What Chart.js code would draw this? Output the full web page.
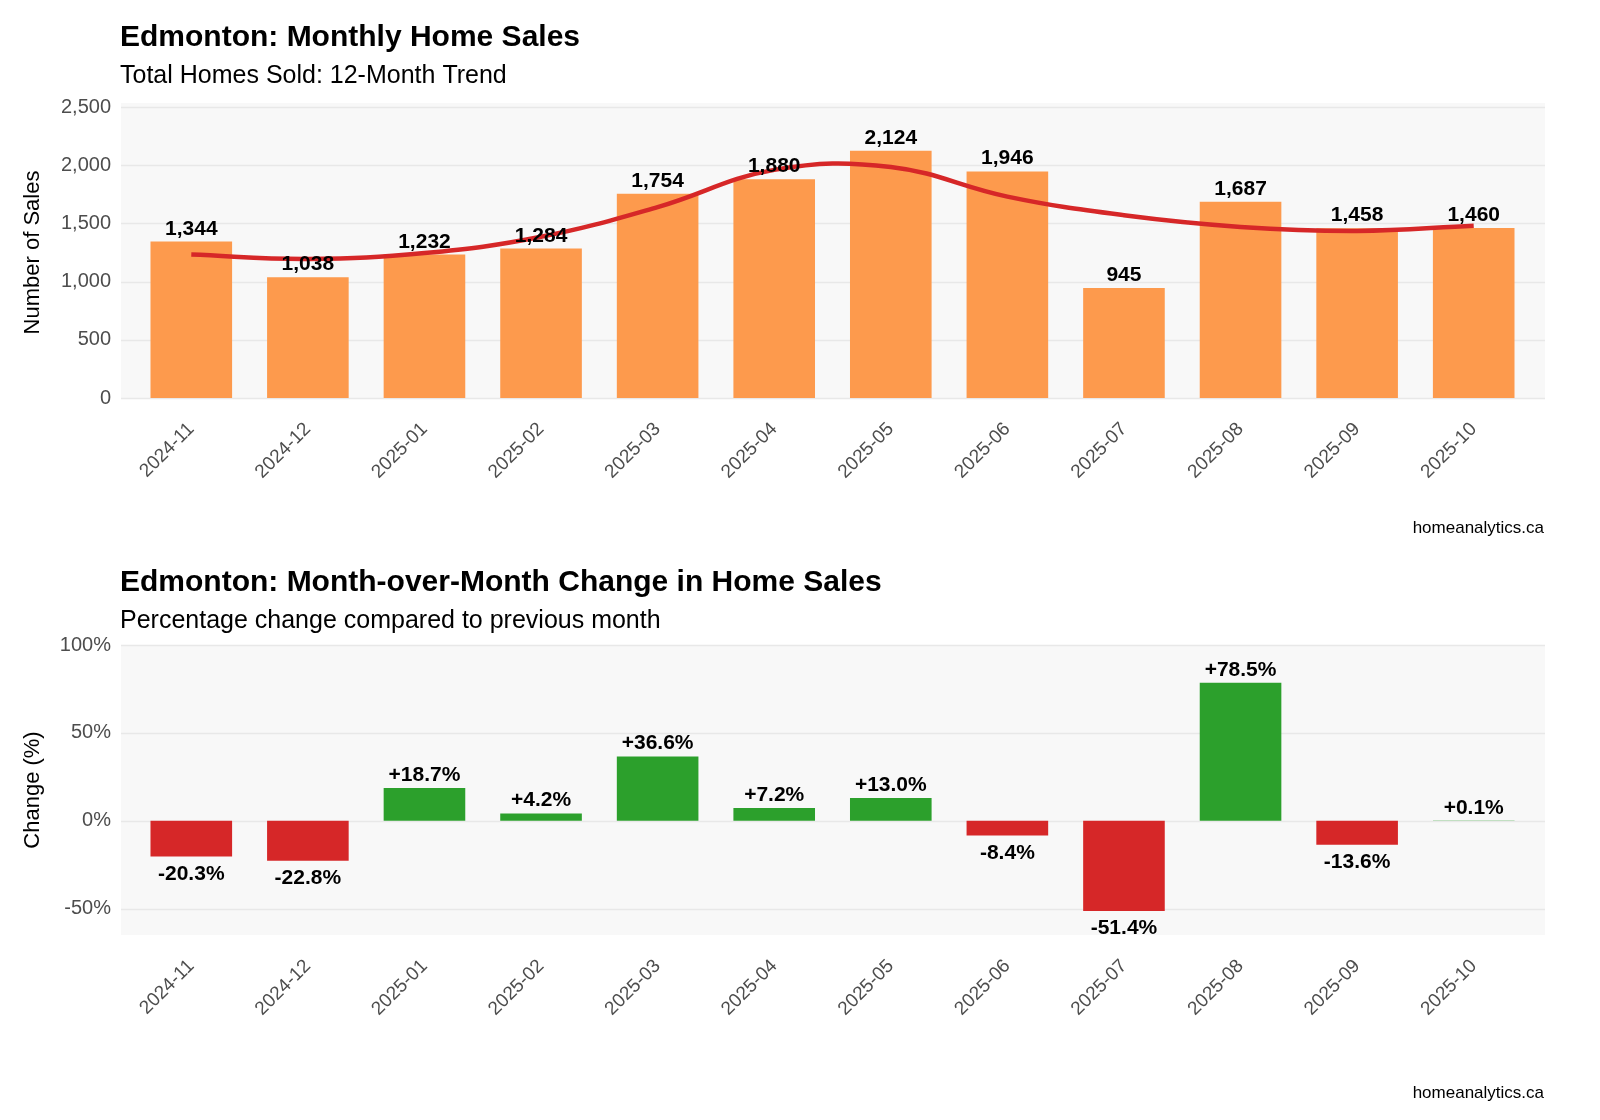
<!DOCTYPE html>
<html><head><meta charset="utf-8">
<script src="https://cdn.jsdelivr.net/npm/chart.js@4.4.0/dist/chart.umd.min.js"></script>
<style>body{margin:0;background:#fff;overflow:hidden}#a{position:absolute;left:0;top:0;width:1600px;height:545px}#b{position:absolute;left:0;top:545px;width:1600px;height:575px}</style>
</head><body>
<div id="a"><canvas id="c1"></canvas></div><div id="b"><canvas id="c2"></canvas></div>
<script>
const months=["2024-11","2024-12","2025-01","2025-02","2025-03","2025-04","2025-05","2025-06","2025-07","2025-08","2025-09","2025-10"];
const sales=[1344,1038,1232,1284,1754,1880,2124,1946,945,1687,1458,1460];
const trend=[1232,1195,1245,1385,1640,1960,1985,1730,1570,1470,1435,1480];
const change=[-20.3,-22.8,18.7,4.2,36.6,7.2,13.0,-8.4,-51.4,78.5,-13.6,0.1];
const F='Arial, "Liberation Sans", sans-serif';
function deco(title,sub,capY,bgTop,bgBot,gridVals,labelFn,clip){return{id:'deco',
beforeDraw(c){const a=c.chartArea,x=c.ctx,y=c.scales.y;x.save();x.fillStyle='#f8f8f8';
x.fillRect(121,a.top-bgTop,1545-121,a.bottom-a.top+bgTop+bgBot);
x.strokeStyle='#e8e8e8';x.lineWidth=1.5;
gridVals.forEach(v=>{const p=Math.round(y.getPixelForValue(v))+0.5;x.beginPath();x.moveTo(121,p);x.lineTo(1545,p);x.stroke();});
x.restore();},
afterDatasetsDraw(c){const x=c.ctx,a=c.chartArea;x.save();
x.fillStyle='#000';x.textAlign='left';x.textBaseline='alphabetic';
x.font='bold 30px '+F;x.fillText(title,120,46);
x.font='25px '+F;x.fillText(sub,120,83);
x.font='17px '+F;x.textAlign='right';x.fillText('homeanalytics.ca',1544,capY);
x.beginPath();x.rect(121,a.top-bgTop-40,1545-121,a.bottom-a.top+bgTop+bgBot+40);if(clip)x.clip();
x.font='bold 21px '+F;x.textAlign='center';
c.getDatasetMeta(0).data.forEach((b,i)=>{labelFn(x,b,i);});x.restore();}}}
function yFit(s){s.width=133;}
Chart.defaults.font.family=F;
new Chart(document.getElementById('c1'),{
data:{labels:months,datasets:[
{type:'bar',data:sales,backgroundColor:'#fd9a4d',barPercentage:0.7,categoryPercentage:1,order:2},
{type:'line',data:trend,borderColor:'#d62728',borderWidth:4.5,tension:0.4,pointRadius:0,order:1}]},
options:{responsive:true,maintainAspectRatio:false,animation:false,
layout:{padding:{top:107,right:68,bottom:40,left:0}},
plugins:{legend:{display:false},tooltip:{enabled:false}},
scales:{x:{grid:{display:false},border:{display:false},afterFit(s){s.height=107;},ticks:{color:'#4d4d4d',font:{size:19},padding:12,maxRotation:45,minRotation:45}},
y:{min:0,max:2500,afterFit:yFit,border:{display:false},grid:{display:false},ticks:{stepSize:500,color:'#4d4d4d',font:{size:20},padding:14,callback:v=>v.toLocaleString('en-US')},
title:{display:true,text:'Number of Sales',color:'#000',font:{size:22},padding:{top:20,bottom:0}}}}},
plugins:[deco('Edmonton: Monthly Home Sales','Total Homes Sold: 12-Month Trend',533,4,1,[0,500,1000,1500,2000,2500],(x,b,i)=>{x.fillText(sales[i].toLocaleString('en-US'),b.x,b.y-7);},false)]});
new Chart(document.getElementById('c2'),{
type:'bar',
data:{labels:months,datasets:[{data:change,backgroundColor:change.map(v=>v>=0?'#2ca02c':'#d62728'),barPercentage:0.7,categoryPercentage:1}]},
options:{responsive:true,maintainAspectRatio:false,animation:false,
layout:{padding:{top:100,right:68,bottom:45,left:0}},
plugins:{legend:{display:false},tooltip:{enabled:false}},
scales:{x:{grid:{display:false},border:{display:false},afterFit(s){s.height=140;},ticks:{color:'#4d4d4d',font:{size:19},padding:12,maxRotation:45,minRotation:45}},
y:{min:-65,max:100,afterFit:yFit,border:{display:false},grid:{display:false},
afterBuildTicks(s){s.ticks=[-50,0,50,100].map(v=>({value:v}));},
ticks:{color:'#4d4d4d',font:{size:20},padding:14,callback:v=>v+'%'},
title:{display:true,text:'Change (%)',color:'#000',font:{size:22},padding:{top:20,bottom:0}}}}},
plugins:[deco('Edmonton: Month-over-Month Change in Home Sales','Percentage change compared to previous month',553,0,0,[-50,0,50,100],(x,b,i)=>{const v=change[i];const t=(v>0?'+':'')+v.toFixed(1)+'%';if(v>=0){x.textBaseline='alphabetic';x.fillText(t,b.x,b.y-7);}else{x.textBaseline='top';x.fillText(t,b.x,b.y+7);}},true)]});
</script></body></html>
